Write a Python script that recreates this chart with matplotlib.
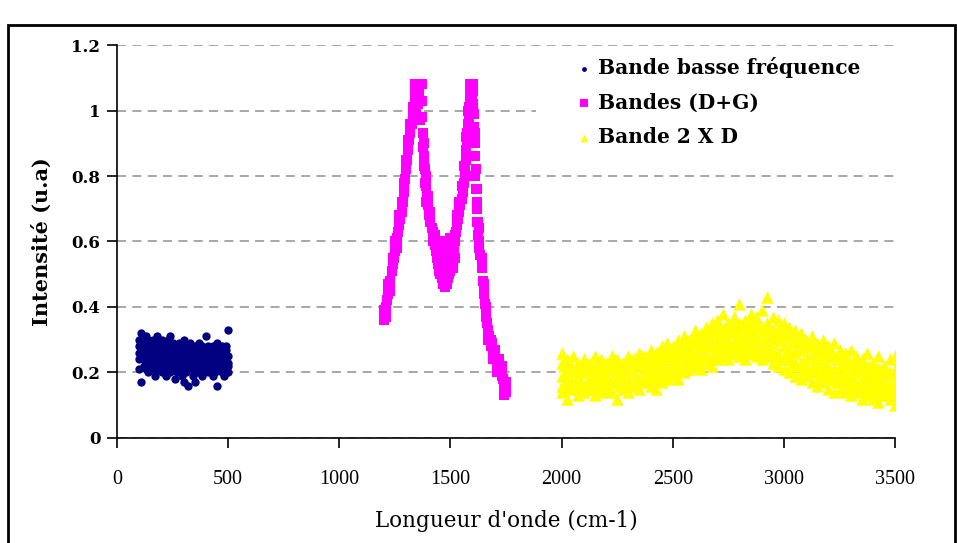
import matplotlib.pyplot as plt
from matplotlib.patches import Rectangle

plt.rcParams['font.family'] = ['DejaVu Serif']

# --- Bande basse fréquence (100-500 cm-1)
blue_x = list(range(100, 501, 10))
blue_hi = [0.30, 0.32, 0.29, 0.31, 0.30, 0.28, 0.30, 0.29, 0.31, 0.28, 0.30, 0.29, 0.28, 0.30,
           0.31, 0.29, 0.28, 0.27, 0.29, 0.28, 0.30, 0.27, 0.28, 0.29, 0.27, 0.28, 0.27, 0.29,
           0.28, 0.27, 0.31, 0.28, 0.27, 0.28, 0.27, 0.29, 0.27, 0.28, 0.27, 0.28, 0.33]
blue_up = [0.28, 0.27, 0.24, 0.28, 0.27, 0.23, 0.27, 0.28, 0.22, 0.24, 0.27, 0.26, 0.23, 0.27,
           0.22, 0.27, 0.23, 0.26, 0.22, 0.27, 0.22, 0.25, 0.26, 0.22, 0.25, 0.23, 0.26, 0.25,
           0.22, 0.26, 0.25, 0.22, 0.23, 0.26, 0.22, 0.26, 0.22, 0.23, 0.25, 0.22, 0.23]
blue_mid = [0.26, 0.25, 0.27, 0.26, 0.25, 0.26, 0.25, 0.26, 0.24, 0.26, 0.25, 0.24, 0.26, 0.25,
            0.24, 0.25, 0.26, 0.24, 0.25, 0.24, 0.25, 0.23, 0.25, 0.24, 0.23, 0.25, 0.24, 0.23,
            0.25, 0.24, 0.23, 0.24, 0.25, 0.23, 0.24, 0.23, 0.24, 0.25, 0.23, 0.24, 0.25]
blue_dn = [0.24, 0.29, 0.26, 0.23, 0.29, 0.25, 0.23, 0.27, 0.26, 0.29, 0.22, 0.28, 0.25, 0.23,
           0.28, 0.23, 0.27, 0.22, 0.27, 0.25, 0.28, 0.24, 0.22, 0.27, 0.21, 0.27, 0.22, 0.27,
           0.24, 0.22, 0.27, 0.26, 0.23, 0.25, 0.28, 0.24, 0.25, 0.21, 0.26, 0.27, 0.20]
blue_lo = [0.21, 0.17, 0.22, 0.21, 0.20, 0.22, 0.21, 0.19, 0.21, 0.22, 0.20, 0.21, 0.19, 0.22,
           0.20, 0.21, 0.18, 0.20, 0.21, 0.19, 0.17, 0.20, 0.16, 0.21, 0.19, 0.17, 0.20, 0.21,
           0.19, 0.20, 0.21, 0.20, 0.21, 0.19, 0.20, 0.16, 0.21, 0.20, 0.19, 0.21, 0.22]

# --- Bandes (D+G) (1200-1750 cm-1)
mag_x = list(range(1200, 1751, 10))
mag_y1 = [0.36, 0.40, 0.44, 0.48, 0.53, 0.57, 0.61, 0.65, 0.69, 0.75, 0.82, 0.88, 0.93, 0.98,
          1.03, 1.07, 1.06, 0.98, 0.86, 0.77, 0.71, 0.66, 0.63, 0.59, 0.55, 0.51, 0.49, 0.48,
          0.48, 0.49, 0.51, 0.55, 0.60, 0.65, 0.69, 0.73, 0.78, 0.88, 0.96, 1.05, 1.06, 0.90,
          0.72, 0.60, 0.52, 0.44, 0.37, 0.33, 0.30, 0.27, 0.25, 0.23, 0.21, 0.19, 0.16, 0.14]
mag_y2 = [0.39, 0.37, 0.47, 0.45, 0.55, 0.60, 0.58, 0.68, 0.72, 0.78, 0.85, 0.91, 0.96, 1.01,
          1.06, 1.08, 1.08, 1.03, 0.90, 0.80, 0.74, 0.69, 0.60, 0.62, 0.58, 0.56, 0.55, 0.52,
          0.56, 0.54, 0.57, 0.52, 0.62, 0.68, 0.72, 0.77, 0.83, 0.92, 1.00, 1.08, 1.08, 0.93,
          0.76, 0.64, 0.55, 0.47, 0.40, 0.30, 0.28, 0.24, 0.27, 0.20, 0.24, 0.22, 0.13, 0.17]
mag_xh = list(range(1205, 1746, 10))
mag_y3 = [0.38, 0.42, 0.46, 0.51, 0.55, 0.59, 0.63, 0.67, 0.72, 0.79, 0.85, 0.91, 0.96, 1.01,
          1.05, 1.08, 1.03, 0.93, 0.82, 0.74, 0.68, 0.64, 0.61, 0.57, 0.53, 0.50, 0.47, 0.46,
          0.47, 0.50, 0.53, 0.58, 0.63, 0.67, 0.71, 0.75, 0.83, 0.93, 1.01, 1.07, 0.99, 0.82,
          0.66, 0.56, 0.48, 0.41, 0.35, 0.31, 0.29, 0.26, 0.24, 0.22, 0.20, 0.18, 0.15]
# extra readings on the steep flanks of the two peaks
mag_ex = [1340, 1345, 1355, 1365, 1370, 1375, 1380, 1385, 1390, 1565, 1570, 1575, 1580, 1585,
          1590, 1595, 1600, 1605, 1610, 1612, 1615, 1618, 1620, 1625, 1630, 1440, 1460, 1480,
          1500, 1520]
mag_ey = [1.08, 1.00, 1.02, 0.97, 1.08, 0.89, 0.83, 0.78, 0.72, 0.80, 0.85, 0.90, 0.93, 0.98,
          1.02, 1.04, 1.02, 0.95, 0.86, 0.80, 0.76, 0.70, 0.66, 0.62, 0.58, 0.60, 0.59, 0.60,
          0.61, 0.55]

# --- Bande 2 X D (2000-3500 cm-1)
yel_x = list(range(2000, 3501, 25))
yel_r1 = [0.26, 0.24, 0.25, 0.23, 0.24, 0.22, 0.25, 0.24, 0.23, 0.25, 0.24, 0.23, 0.25, 0.24,
          0.26, 0.25, 0.27, 0.26, 0.28, 0.29, 0.28, 0.30, 0.31, 0.30, 0.33, 0.32, 0.34, 0.35,
          0.36, 0.38, 0.35, 0.37, 0.41, 0.36, 0.38, 0.37, 0.39, 0.43, 0.37, 0.36, 0.35, 0.34,
          0.33, 0.32, 0.30, 0.31, 0.29, 0.30, 0.28, 0.29, 0.27, 0.26, 0.27, 0.25, 0.24, 0.26,
          0.23, 0.25, 0.22, 0.24, 0.25]
yel_r2 = [0.23, 0.22, 0.21, 0.22, 0.21, 0.23, 0.22, 0.21, 0.23, 0.22, 0.23, 0.22, 0.23, 0.24,
          0.23, 0.24, 0.25, 0.24, 0.26, 0.26, 0.27, 0.28, 0.28, 0.29, 0.30, 0.31, 0.31, 0.32,
          0.33, 0.33, 0.34, 0.34, 0.35, 0.34, 0.35, 0.34, 0.34, 0.35, 0.33, 0.33, 0.32, 0.31,
          0.30, 0.30, 0.28, 0.28, 0.27, 0.27, 0.25, 0.25, 0.24, 0.23, 0.23, 0.22, 0.21, 0.22,
          0.20, 0.21, 0.19, 0.20, 0.21]
yel_r3 = [0.19, 0.20, 0.18, 0.19, 0.20, 0.18, 0.19, 0.20, 0.19, 0.21, 0.20, 0.19, 0.21, 0.20,
          0.22, 0.21, 0.22, 0.23, 0.22, 0.24, 0.25, 0.24, 0.26, 0.27, 0.26, 0.28, 0.29, 0.28,
          0.30, 0.31, 0.30, 0.32, 0.31, 0.30, 0.32, 0.31, 0.30, 0.31, 0.29, 0.30, 0.28, 0.27,
          0.26, 0.27, 0.25, 0.24, 0.23, 0.24, 0.22, 0.21, 0.22, 0.20, 0.19, 0.20, 0.18, 0.19,
          0.17, 0.18, 0.17, 0.16, 0.17]
yel_r4 = [0.16, 0.17, 0.16, 0.17, 0.16, 0.17, 0.16, 0.17, 0.17, 0.18, 0.17, 0.17, 0.18, 0.17,
          0.18, 0.19, 0.19, 0.20, 0.19, 0.21, 0.22, 0.21, 0.23, 0.24, 0.24, 0.25, 0.26, 0.25,
          0.27, 0.28, 0.27, 0.29, 0.28, 0.27, 0.29, 0.28, 0.27, 0.28, 0.26, 0.26, 0.25, 0.24,
          0.23, 0.23, 0.22, 0.21, 0.20, 0.21, 0.19, 0.18, 0.19, 0.17, 0.16, 0.17, 0.15, 0.16,
          0.15, 0.15, 0.15, 0.14, 0.14]
yel_r5 = [0.14, 0.12, 0.15, 0.13, 0.14, 0.15, 0.13, 0.14, 0.15, 0.14, 0.12, 0.15, 0.14, 0.16,
          0.15, 0.17, 0.16, 0.15, 0.17, 0.18, 0.19, 0.18, 0.20, 0.21, 0.22, 0.21, 0.23, 0.22,
          0.24, 0.25, 0.24, 0.26, 0.25, 0.24, 0.26, 0.25, 0.24, 0.25, 0.23, 0.22, 0.21, 0.20,
          0.19, 0.18, 0.19, 0.17, 0.16, 0.17, 0.15, 0.14, 0.15, 0.14, 0.13, 0.14, 0.12, 0.13,
          0.12, 0.11, 0.13, 0.12, 0.10]
yel_xh = list(range(2010, 3486, 25))
yel_h1 = [0.22, 0.23, 0.21, 0.22, 0.23, 0.21, 0.22, 0.23, 0.22, 0.24, 0.23, 0.22, 0.24, 0.23,
          0.25, 0.24, 0.25, 0.26, 0.25, 0.27, 0.28, 0.27, 0.29, 0.30, 0.29, 0.31, 0.32, 0.31,
          0.33, 0.34, 0.33, 0.35, 0.34, 0.33, 0.35, 0.34, 0.33, 0.34, 0.32, 0.33, 0.31, 0.30,
          0.29, 0.30, 0.28, 0.27, 0.26, 0.27, 0.25, 0.24, 0.25, 0.23, 0.22, 0.23, 0.21, 0.22,
          0.20, 0.21, 0.20, 0.19]
yel_h2 = [0.16, 0.15, 0.17, 0.16, 0.15, 0.17, 0.16, 0.15, 0.16, 0.17, 0.16, 0.17, 0.16, 0.18,
          0.17, 0.18, 0.19, 0.18, 0.20, 0.19, 0.21, 0.22, 0.21, 0.23, 0.24, 0.23, 0.25, 0.24,
          0.26, 0.27, 0.26, 0.28, 0.27, 0.26, 0.28, 0.27, 0.26, 0.27, 0.25, 0.24, 0.24, 0.23,
          0.22, 0.21, 0.21, 0.20, 0.19, 0.19, 0.18, 0.17, 0.17, 0.16, 0.15, 0.16, 0.14, 0.15,
          0.14, 0.13, 0.14, 0.13]

x_ticks = [0, 500, 1000, 1500, 2000, 2500, 3000, 3500]
x_ticklabels = ['0', '500', '1000', '1500', '2000', '2500', '3000', '3500']
y_ticks = [0, 0.2, 0.4, 0.6, 0.8, 1, 1.2]
y_ticklabels = ['0', '0.2', '0.4', '0.6', '0.8', '1', '1.2']

fig = plt.figure(figsize=(9.57, 5.43), dpi=100)
fig.patches.append(Rectangle((0.0084, -0.02), 0.99, 0.974, transform=fig.transFigure,
                             fill=False, edgecolor='black', linewidth=2))
ax = fig.add_axes([0.1223, 0.1934, 0.813, 0.7237])

ax.scatter(blue_x * 5, blue_hi + blue_up + blue_mid + blue_dn + blue_lo, s=36, marker='o',
           color='#000080', linewidths=0, zorder=3, label='Bande basse fréquence')
ax.scatter(mag_x * 2 + mag_xh + mag_ex, mag_y1 + mag_y2 + mag_y3 + mag_ey, s=42, marker='s',
           color='#ff00ff', linewidths=0, zorder=3, label='Bandes (D+G)')
ax.scatter(yel_x * 5 + yel_xh * 2,
           yel_r1 + yel_r2 + yel_r3 + yel_r4 + yel_r5 + yel_h1 + yel_h2,
           s=80, marker='^', color='#ffff00', linewidths=0, zorder=3, label='Bande 2 X D')

ax.set_xlim(0, 3500)
ax.set_ylim(0, 1.2)
ax.set_xticks(x_ticks)
ax.set_xticklabels(x_ticklabels, fontfamily='Liberation Serif', fontsize=14.5)
ax.set_yticks(y_ticks)
ax.set_yticklabels(y_ticklabels, fontweight='bold', fontsize=12)
ax.grid(axis='y', color='#a0a0a0', linestyle=(0, (5, 3.5)), linewidth=1.3, zorder=0)
ax.set_axisbelow(True)
# white box behind the legend hides the grid there
ax.add_patch(Rectangle((0.5386, 0.707), 0.4614, 0.28, transform=ax.transAxes,
                       facecolor='white', edgecolor='none', zorder=1))
for s in ['top', 'right']:
    ax.spines[s].set_visible(False)
ax.spines['left'].set_linewidth(1.2)
ax.spines['bottom'].set_linewidth(1.2)
ax.tick_params(axis='both', direction='out', length=7, width=1.2)
ax.tick_params(axis='x', pad=16)
ax.tick_params(axis='y', pad=5)

ax.set_xlabel("Longueur d'onde (cm-1)", fontsize=15.5, labelpad=15)
ax.set_ylabel('Intensité (u.a)', fontsize=15, fontweight='bold', labelpad=14)

leg = ax.legend(loc='upper left', bbox_to_anchor=(0.568, 1.016), frameon=False,
                handletextpad=0.35, labelspacing=0.72, borderpad=0.4, handlelength=0.7,
                prop={'weight': 'bold', 'size': 14.5})
leg.set_zorder(5)
for h, sz in zip(leg.legend_handles, [12, 30, 30]):
    h.set_sizes([sz])

plt.savefig('out.png', dpi=100)
